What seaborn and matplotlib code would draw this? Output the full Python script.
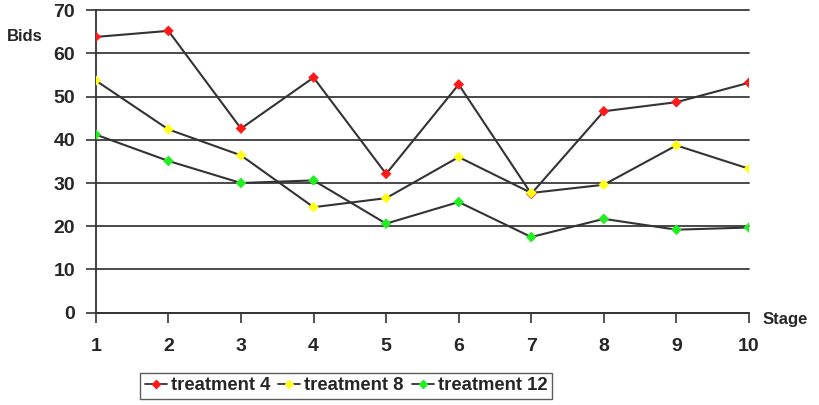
import matplotlib
matplotlib.use("Agg")
import matplotlib.pyplot as plt
from matplotlib.lines import Line2D
import seaborn as sns
import pandas as pd

stages = [1, 2, 3, 4, 5, 6, 7, 8, 9, 10]
treatment_4 = [63.8, 65.2, 42.6, 54.4, 32.1, 52.8, 27.5, 46.6, 48.7, 53.2]
treatment_8 = [53.7, 42.4, 36.4, 24.4, 26.5, 36.0, 27.7, 29.6, 38.7, 33.3]
treatment_12 = [41.2, 35.1, 30.0, 30.6, 20.6, 25.6, 17.5, 21.7, 19.2, 19.7]
series_names = ["treatment 4", "treatment 8", "treatment 12"]
marker_colors = ["#ff1a1a", "#ffff1a", "#22ee22"]
y_ticks = [0, 10, 20, 30, 40, 50, 60, 70]

frames = []
for name, vals in zip(series_names, [treatment_4, treatment_8, treatment_12]):
    frames.append(pd.DataFrame({"Stage": stages, "Bids": vals, "series": name}))
df = pd.concat(frames, ignore_index=True)

sns.set_style("white")
plt.rcParams["font.family"] = ["Liberation Sans", "DejaVu Sans"]
plt.rcParams["font.weight"] = "bold"

fig = plt.figure(figsize=(8.19, 4.05), dpi=100)
ax = fig.add_axes([0.117, 0.228, 0.7975, 0.747])

for y in y_ticks:
    ax.axhline(y, color="#3a3a3a", lw=1.3, zorder=1, clip_on=False)

# black lines, coloured diamond markers
sns.lineplot(data=df, x="Stage", y="Bids", units="series", estimator=None,
             color="#333333", lw=1.5, ax=ax, zorder=2)
sns.scatterplot(data=df, x="Stage", y="Bids", hue="series", palette=marker_colors,
                marker="D", s=30, linewidth=0, ax=ax, legend=False, zorder=3)

ax.set_xlim(1, 10)
ax.set_ylim(0, 70)
ax.set_xticks(stages)
ax.set_yticks(y_ticks)
ax.tick_params(axis="both", labelsize=14, length=7, width=1.2, color="#333333",
               direction="out", bottom=True, left=True)
ax.tick_params(axis="x", pad=11)
ax.tick_params(axis="y", pad=8)
for lab in ax.get_xticklabels() + ax.get_yticklabels():
    lab.set_fontweight("bold")
for side in ["top", "right"]:
    ax.spines[side].set_visible(False)
for side in ["left", "bottom"]:
    ax.spines[side].set_color("#333333")
    ax.spines[side].set_linewidth(1.3)
ax.set_xlabel("")
ax.set_ylabel("")
fig.text(0.008, 0.91, "Bids", fontsize=12, fontweight="bold", va="center", ha="left")
fig.text(0.931, 0.21, "Stage", fontsize=12, fontweight="bold", va="center", ha="left")

handles = [Line2D([0], [0], color="#333333", lw=1.3, marker="D", markersize=4.5,
                  markerfacecolor=c, markeredgecolor=c) for c in marker_colors]
leg = fig.legend(handles, series_names, loc="center", bbox_to_anchor=(0.4225, 0.0475),
                 ncol=3, fontsize=13.3, frameon=True, fancybox=False, handlelength=1.2,
                 handletextpad=0.2, columnspacing=0.45, borderpad=0.25, borderaxespad=0)
leg.get_frame().set_edgecolor("#333333")
leg.get_frame().set_linewidth(1.0)

fig.savefig("out.png", dpi=100)
